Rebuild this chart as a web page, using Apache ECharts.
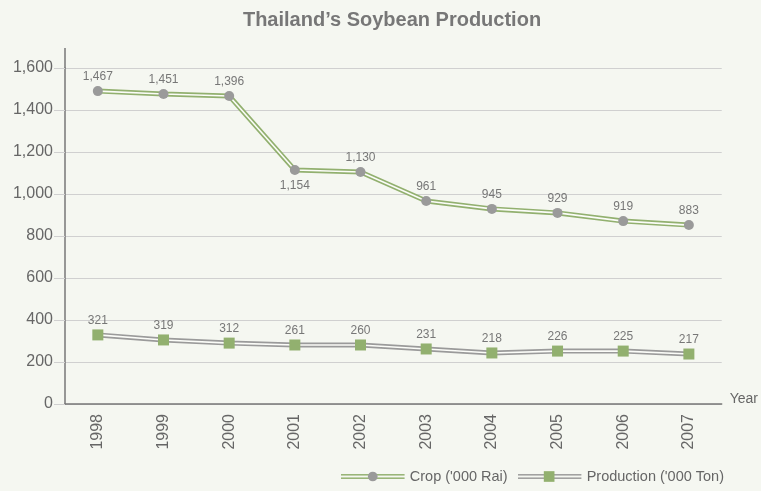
<!DOCTYPE html>
<html><head><meta charset="utf-8">
<script src="https://cdn.jsdelivr.net/npm/echarts@6/dist/echarts.min.js"></script>
<style>html,body{margin:0;padding:0;background:#f5f7f1}#c{width:761px;height:491px}</style>
</head><body><div id="c"></div>
<script>
const years = ['1998','1999','2000','2001','2002','2003','2004','2005','2006','2007'];
// values as plotted in the picture
const cropValues = [1490, 1476, 1467, 1114, 1105, 967, 929, 910, 871, 852];
const prodValues = [329, 305, 290, 281, 281, 262, 243, 252, 252, 238];
// values as printed on the labels
const cropLabels = [1467, 1451, 1396, 1154, 1130, 961, 945, 929, 919, 883];
const prodLabels = [321, 319, 312, 261, 260, 231, 218, 226, 225, 217];
const yTicks = [0, 200, 400, 600, 800, 1000, 1200, 1400, 1600];

const cropName = "Crop ('000 Rai)";
const prodName = "Production ('000 Ton)";
const bg = '#f5f7f1';
const green = '#92b06f';
const grey = '#9a9a9a';

function svgIcon(lineCol, markCol, square) {
  const mark = square
    ? `<rect x="27" y="1" width="11" height="11" fill="${markCol}"/>`
    : `<circle cx="33" cy="6.5" r="5" fill="${markCol}"/>`;
  const s = `<svg xmlns="http://www.w3.org/2000/svg" width="66" height="13"><rect x="0" y="4" width="66" height="1.5" fill="${lineCol}"/><rect x="0" y="7.5" width="66" height="1.5" fill="${lineCol}"/>${mark}</svg>`;
  return 'image://data:image/svg+xml;charset=utf-8,' + encodeURIComponent(s);
}

const fmt = v => v.toLocaleString('en-US');
const font = '"Liberation Sans", Arial, Helvetica, sans-serif';

const chart = echarts.init(document.getElementById('c'));
chart.setOption({
  backgroundColor: bg,
  animation: false,
  textStyle: { fontFamily: font },
  title: {
    text: 'Thailand\u2019s Soybean Production',
    left: 387, top: 5, textAlign: 'center',
    textStyle: { fontFamily: font, fontSize: 20, fontWeight: 'bold', color: '#777' }
  },
  grid: { left: 65, right: 38, top: 68, bottom: 87 },
  legend: {
    right: 32, bottom: 2,
    itemWidth: 64, itemHeight: 13, itemGap: 10,
    textStyle: { fontFamily: font, fontSize: 14.5, color: '#666' },
    data: [
      { name: cropName, icon: svgIcon(green, grey, false) },
      { name: prodName, icon: svgIcon(grey, green, true) }
    ]
  },
  xAxis: {
    type: 'category', data: years, boundaryGap: true,
    name: 'Year', nameLocation: 'end', nameGap: 8,
    nameTextStyle: { fontFamily: font, fontSize: 14, color: '#666', verticalAlign: 'bottom', padding: [0, 0, -2, 0] },
    axisLine: { lineStyle: { color: '#777', width: 1.5 } },
    axisTick: { length: 6, lineStyle: { color: '#777', width: 1.5 } },
    axisLabel: { rotate: 90, margin: 10, fontSize: 16, color: '#666', fontFamily: font }
  },
  yAxis: {
    type: 'value', min: 0, max: 1600, interval: 200,
    axisLine: { show: true, lineStyle: { color: '#777', width: 1.5 } },
    axisTick: { show: true, length: 11, lineStyle: { color: '#d0d0d0' } },
    axisLabel: { fontSize: 16, color: '#666', margin: 12, fontFamily: font,
      formatter: v => yTicks.includes(v) ? fmt(v) : '' },
    splitLine: { lineStyle: { color: '#d0d0d0', width: 1.2 } }
  },
  graphic: [{
    type: 'line', shape: { x1: 65, y1: 48, x2: 65, y2: 68 },
    style: { stroke: '#777', lineWidth: 1.5 }, silent: true
  }],
  series: [
    { name: 'crop-outer', type: 'line', data: cropValues, symbol: 'none', silent: true,
      lineStyle: { color: green, width: 5 }, z: 2 },
    { name: cropName, type: 'line', data: cropValues.map((v, i) => i === 3 ? { value: v, label: { position: 'bottom', distance: 5 } } : v),
      symbol: 'circle', symbolSize: 10,
      itemStyle: { color: grey },
      lineStyle: { color: '#fbfcf8', width: 1.6 }, z: 3,
      label: { show: true, position: 'top', distance: 3, fontSize: 12, color: '#777', fontFamily: font,
        formatter: p => fmt(cropLabels[p.dataIndex]) } },
    { name: 'prod-outer', type: 'line', data: prodValues, symbol: 'none', silent: true,
      lineStyle: { color: grey, width: 5 }, z: 2 },
    { name: prodName, type: 'line', data: prodValues,
      symbol: 'rect', symbolSize: 11,
      itemStyle: { color: green },
      lineStyle: { color: '#fbfcf8', width: 1.6 }, z: 3,
      label: { show: true, position: 'top', distance: 3, fontSize: 12, color: '#777', fontFamily: font,
        formatter: p => fmt(prodLabels[p.dataIndex]) } }
  ]
});
</script></body></html>
